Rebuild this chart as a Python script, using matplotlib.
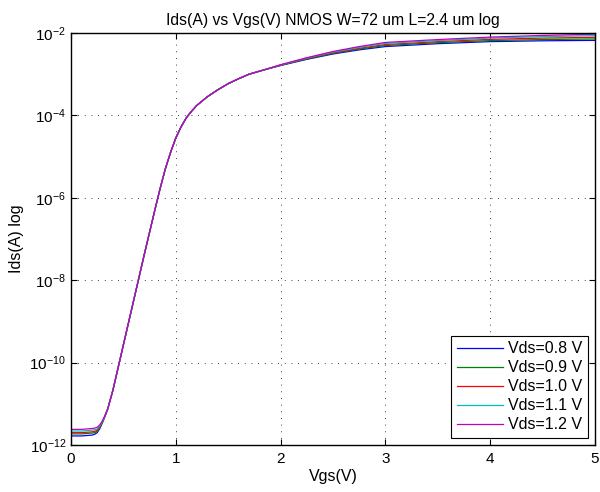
import numpy as np
import matplotlib
matplotlib.use("Agg")
import matplotlib.pyplot as plt
from matplotlib.ticker import FixedLocator, NullLocator

plt.rcParams['font.family'] = ['Liberation Sans', 'DejaVu Sans']

## Vgs sweep points (V)
vgs = [0.0, 0.1, 0.2, 0.225, 0.25, 0.275, 0.3, 0.325, 0.35, 0.4, 0.5, 0.6, 0.7, 0.8, 0.85,
       0.9, 0.95, 1.0, 1.05, 1.1, 1.15, 1.2, 1.3, 1.4, 1.5, 1.6, 1.7, 1.85,
       2.0, 2.25, 2.5, 2.75, 3.0, 3.5, 4.0, 4.5, 5.0]

## log10(Ids) for each Vds curve
log_ids_08 = [-11.78, -11.78, -11.76, -11.74, -11.70, -11.60, -11.46, -11.30, -11.13, -10.67, -9.57, -8.47, -7.37, -6.30, -5.78,
              -5.30, -4.90, -4.55, -4.28, -4.06, -3.90, -3.76, -3.55, -3.38, -3.23, -3.11, -3.00, -2.89,
              -2.790, -2.640, -2.510, -2.410, -2.330, -2.260, -2.210, -2.190, -2.180]
log_ids_09 = [-11.73, -11.73, -11.71, -11.70, -11.67, -11.58, -11.45, -11.30, -11.13, -10.67, -9.57, -8.47, -7.37, -6.30, -5.78,
              -5.30, -4.90, -4.55, -4.28, -4.06, -3.90, -3.76, -3.55, -3.38, -3.23, -3.11, -3.00, -2.89,
              -2.785, -2.630, -2.495, -2.390, -2.305, -2.235, -2.185, -2.160, -2.145]
log_ids_10 = [-11.70, -11.70, -11.68, -11.67, -11.64, -11.56, -11.44, -11.29, -11.13, -10.67, -9.57, -8.47, -7.37, -6.30, -5.78,
              -5.30, -4.90, -4.55, -4.28, -4.06, -3.90, -3.76, -3.55, -3.38, -3.23, -3.11, -3.00, -2.89,
              -2.780, -2.620, -2.480, -2.370, -2.280, -2.210, -2.155, -2.125, -2.105]
log_ids_11 = [-11.66, -11.66, -11.64, -11.63, -11.61, -11.54, -11.43, -11.29, -11.13, -10.67, -9.57, -8.47, -7.37, -6.30, -5.78,
              -5.30, -4.90, -4.55, -4.28, -4.06, -3.90, -3.76, -3.55, -3.38, -3.23, -3.11, -3.00, -2.89,
              -2.775, -2.610, -2.465, -2.350, -2.255, -2.185, -2.125, -2.090, -2.065]
log_ids_12 = [-11.62, -11.62, -11.60, -11.59, -11.57, -11.51, -11.41, -11.28, -11.13, -10.67, -9.57, -8.47, -7.37, -6.30, -5.78,
              -5.30, -4.90, -4.55, -4.28, -4.06, -3.90, -3.76, -3.55, -3.38, -3.23, -3.11, -3.00, -2.89,
              -2.770, -2.600, -2.450, -2.330, -2.230, -2.160, -2.100, -2.060, -2.030]

labels = ["Vds=0.8 V", "Vds=0.9 V", "Vds=1.0 V", "Vds=1.1 V", "Vds=1.2 V"]
colors = ["#0000ff", "#008000", "#ff0000", "#00bfbf", "#bf00bf"]

fig = plt.figure(figsize=(6, 4.92), dpi=100)
ax = fig.add_axes([0.1183, 0.0955, 0.8734, 0.8375])

for ys, lab, col in zip([log_ids_08, log_ids_09, log_ids_10, log_ids_11, log_ids_12], labels, colors):
    ax.semilogy(vgs, 10 ** np.array(ys), color=col, lw=0.9, label=lab)

ax.set_xlim(0, 5)
ax.set_ylim(1e-12, 1e-2)
ax.xaxis.set_major_locator(FixedLocator([0, 1, 2, 3, 4, 5]))
ax.yaxis.set_major_locator(FixedLocator([1e-12, 1e-10, 1e-8, 1e-6, 1e-4, 1e-2]))
ax.yaxis.set_minor_locator(NullLocator())
ax.tick_params(direction='in', length=4, width=0.8, top=True, right=True, labelsize=11)
ax.tick_params(axis='x', pad=5)
ax.grid(True, color='black', linestyle=(0, (1, 7)), lw=0.6)
for sp in ax.spines.values():
    sp.set_linewidth(1.0)

ax.set_title("Ids(A) vs Vgs(V) NMOS W=72 um L=2.4 um log", fontsize=11.3, pad=6)
ax.set_xlabel("Vgs(V)", fontsize=11.5, labelpad=2)
ax.set_ylabel("Ids(A) log", fontsize=11.5, labelpad=4)

leg = ax.legend(loc='lower right', fontsize=11.5, fancybox=False, framealpha=1,
                edgecolor='black', handlelength=2.9, borderaxespad=0.45,
                labelspacing=0.25, handletextpad=0.3, borderpad=0.35)
leg.get_frame().set_linewidth(0.8)

fig.savefig("out.png", dpi=100)
